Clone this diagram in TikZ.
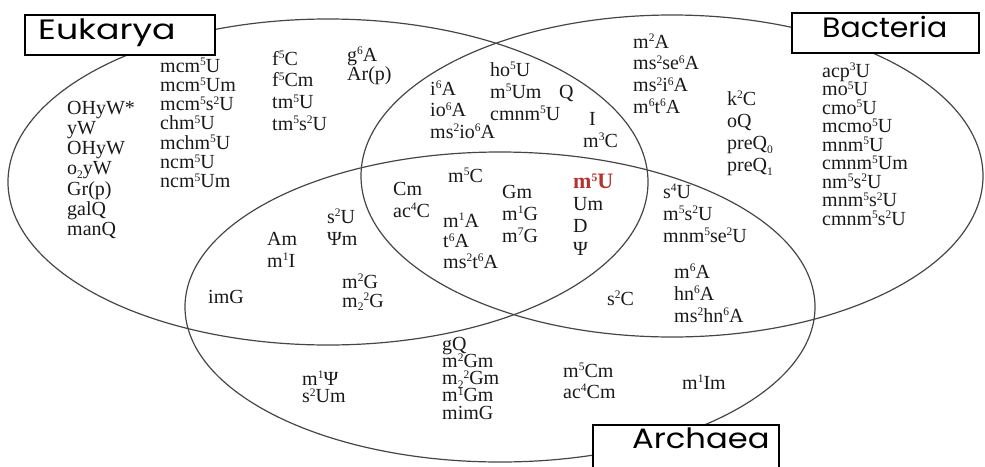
\documentclass[tikz,border=0pt]{standalone}
\usepackage{fontspec}
\setmainfont{Liberation Serif}
\newfontfamily\titlefont{Poppins}
\usepackage{xcolor}
\usepackage{graphicx}
\usepackage{tikz}
\definecolor{venngray}{RGB}{70, 70, 70}
\definecolor{modred}{RGB}{178, 52, 48}
% small raised / lowered digits for the nucleoside names
\newcommand{\suph}[1]{\raisebox{6.3pt}{\fontsize{11.5}{11.5}\selectfont #1}}
\newcommand{\subl}[1]{\raisebox{-3.5pt}{\fontsize{11.5}{11.5}\selectfont #1}}

\begin{document}
\begin{tikzpicture}[x=1pt, y=-1pt,
  venn/.style={draw=venngray, line width=1.2pt},
  tagbox/.style={draw=black, fill=white, line width=1.3pt},
  tagtext/.style={anchor=base west, inner sep=0pt, font=\titlefont\fontsize{28}{28}\selectfont},
  mod/.style={anchor=base west, inner sep=0pt, text=black!90, font=\fontsize{20}{20}\selectfont}]
\clip (0,0) rectangle (985,466);
% the three domains
\draw[venn] (328,182) ellipse [x radius=320, y radius=163];
\draw[venn] (672,176) ellipse [x radius=311, y radius=161];
\draw[venn] (500,307) ellipse [x radius=315, y radius=155];
% labels
\draw[tagbox] (25,15) rectangle (215,55);
\node[tagtext] (eukarya) at (38,39) {\scalebox{1.24}[1]{Eukarya}};
\draw[tagbox] (792,13) rectangle (979,53);
\node[tagtext] (bacteria) at (822,37) {\scalebox{1.07}[1]{Bacteria}};
\draw[tagbox] (593,425) rectangle (779,480);
\node[tagtext] (archaea) at (632,448) {\scalebox{1.15}[1]{Archaea}};

% Eukarya only
\foreach \t [count=\i from 0] in {OHyW*, yW, OHyW, o\subl{2}yW, Gr(p), galQ, manQ}
  \node[mod] (eu-a\i) at (67,{114+20.3*\i}) {\t};
\foreach \t [count=\i from 0] in {mcm\suph{5}U, mcm\suph{5}Um, mcm\suph{5}s\suph{2}U, chm\suph{5}U, mchm\suph{5}U, ncm\suph{5}U, ncm\suph{5}Um}
  \node[mod] (eu-b\i) at (160,{72+19.3*\i}) {\t};
\foreach \t [count=\i from 0] in {f\suph{5}C, f\suph{5}Cm, tm\suph{5}U, tm\suph{5}s\suph{2}U}
  \node[mod] (eu-c\i) at (272,{65+21.7*\i}) {\t};
\foreach \t [count=\i from 0] in {g\suph{6}A, Ar(p)}
  \node[mod] (eu-d\i) at (347,{61+19*\i}) {\t};

% Eukarya and Bacteria
\foreach \t [count=\i from 0] in {i\suph{6}A, io\suph{6}A, ms\suph{2}io\suph{6}A}
  \node[mod] (eb-a\i) at (430,{95+21.5*\i}) {\t};
\foreach \t [count=\i from 0] in {ho\suph{5}U, m\suph{5}Um, cmnm\suph{5}U}
  \node[mod] (eb-b\i) at (490,{76+22*\i}) {\t};
\node[mod] (eb-q) at (559,98) {Q};
\node[mod] (eb-i) at (589,125) {I};
\node[mod] (eb-m3c) at (583,147) {m\suph{3}C};

% Bacteria only
\foreach \t [count=\i from 0] in {m\suph{2}A, ms\suph{2}se\suph{6}A, ms\suph{2}i\suph{6}A, m\suph{6}t\suph{6}A}
  \node[mod] (ba-a\i) at (633,{48+21.7*\i}) {\t};
\foreach \t [count=\i from 0] in {k\suph{2}C, oQ, preQ\subl{0}, preQ\subl{1}}
  \node[mod] (ba-b\i) at (727,{105+22.3*\i}) {\t};
\foreach \t [count=\i from 0] in {acp\suph{3}U, mo\suph{5}U, cmo\suph{5}U, mcmo\suph{5}U, mnm\suph{5}U, cmnm\suph{5}Um, nm\suph{5}s\suph{2}U, mnm\suph{5}s\suph{2}U, cmnm\suph{5}s\suph{2}U}
  \node[mod] (ba-c\i) at (822,{77+18.5*\i}) {\t};

% shared by all three
\foreach \t [count=\i from 0] in {Cm, ac\suph{4}C}
  \node[mod] (all-a\i) at (393,{195+22*\i}) {\t};
\node[mod] (all-m5c) at (448,182) {m\suph{5}C};
\foreach \t [count=\i from 0] in {m\suph{1}A, t\suph{6}A, ms\suph{2}t\suph{6}A}
  \node[mod] (all-b\i) at (443,{227+20.5*\i}) {\t};
\foreach \t [count=\i from 0] in {Gm, m\suph{1}G, m\suph{7}G}
  \node[mod] (all-c\i) at (502,{198+22*\i}) {\t};
\node[mod, text=modred, font=\fontsize{22}{22}\selectfont\bfseries] (all-m5u) at (573,188) {m\suph{5}U};
\foreach \t [count=\i from 0] in {Um, D, Ψ}
  \node[mod] (all-d\i) at (573,{210+22.5*\i}) {\t};

% Eukarya and Archaea
\foreach \t [count=\i from 0] in {s\suph{2}U, Ψm}
  \node[mod] (ea-a\i) at (327,{223+22*\i}) {\t};
\foreach \t [count=\i from 0] in {Am, m\suph{1}I}
  \node[mod] (ea-b\i) at (267,{245+22*\i}) {\t};
\foreach \t [count=\i from 0] in {m\suph{2}G, m\subl{2}\suph{2}G}
  \node[mod] (ea-c\i) at (342,{288+19*\i}) {\t};
\node[mod] (ea-img) at (208,303) {imG};

% Bacteria and Archaea
\foreach \t [count=\i from 0] in {s\suph{4}U, m\suph{5}s\suph{2}U, mnm\suph{5}se\suph{2}U}
  \node[mod] (ar-a\i) at (663,{198+22*\i}) {\t};
\foreach \t [count=\i from 0] in {m\suph{6}A, hn\suph{6}A, ms\suph{2}hn\suph{6}A}
  \node[mod] (ar-b\i) at (674,{278+22*\i}) {\t};
\node[mod] (ar-s2c) at (607,305) {s\suph{2}C};

% Archaea only
\foreach \t [count=\i from 0] in {m\suph{1}Ψ, s\suph{2}Um}
  \node[mod] (aa-a\i) at (302,{385+17.5*\i}) {\t};
\foreach \t [count=\i from 0] in {gQ, m\suph{2}Gm, m\subl{2}\suph{2}Gm, m\suph{1}Gm, mimG}
  \node[mod] (aa-b\i) at (442,{350+17.3*\i}) {\t};
\foreach \t [count=\i from 0] in {m\suph{5}Cm, ac\suph{4}Cm}
  \node[mod] (aa-c\i) at (563,{377+21*\i}) {\t};
\node[mod] (aa-m1im) at (682,389) {m\suph{1}Im};
\end{tikzpicture}
\end{document}
